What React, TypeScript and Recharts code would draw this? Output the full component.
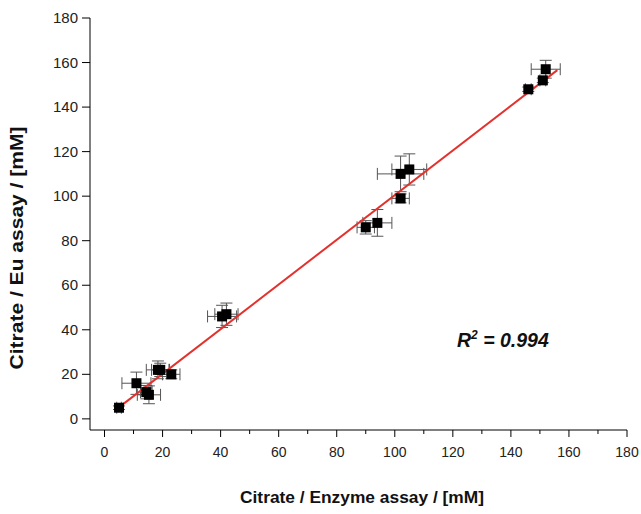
import React from 'react';
import { ScatterChart, Scatter, XAxis, YAxis, ErrorBar, Label } from 'recharts';

// enzyme assay (x) vs Eu assay (y), with error on both
const xVals = [5, 11, 14.4, 15.3, 18.4, 19.2, 23, 40.5, 42, 90, 94, 102, 102, 105, 146, 151, 152];
const yVals = [5, 16, 12, 10.8, 22, 22, 20, 46, 47, 86, 88, 99, 110, 112, 148, 152, 157];
const xErr = [0.8, 5, 2, 4, 4, 3, 3, 5, 4, 3, 5, 3, 8, 6, 1, 1, 5];
const yErr = [0.8, 5, 3, 4, 4, 3, 2, 5, 5, 3, 6, 2, 8, 7, 1, 1, 4];

// linear fit ends
const fitX = [3.5, 156];
const fitY = [3.7, 156.6];

const xTicks = [0, 10, 20, 30, 40, 50, 60, 70, 80, 90, 100, 110, 120, 130, 140, 150, 160, 170, 180];
const yTicks = [0, 10, 20, 30, 40, 50, 60, 70, 80, 90, 100, 110, 120, 130, 140, 150, 160, 170, 180];

const points = xVals.map((x, i) => ({ x, y: yVals[i], ex: xErr[i], ey: yErr[i] }));
const fit = fitX.map((x, i) => ({ x, y: fitY[i] }));

const font = '"Liberation Sans", Arial, sans-serif';

const Square = (props: any) => {
  const { cx, cy } = props;
  return <rect x={cx - 5} y={cy - 5} width={10} height={10} fill="#000" />;
};

const XTick = (props: any) => {
  const { x, y, payload } = props;
  const major = payload.value % 20 === 0;
  return (
    <g>
      <line x1={x} x2={x} y1={y} y2={y + (major ? 7 : 4)} stroke="#000" strokeWidth={1} />
      {major && (
        <text x={x} y={y + 27} textAnchor="middle" fontSize={14} fontFamily={font} fill="#222">
          {payload.value}
        </text>
      )}
    </g>
  );
};

const YTick = (props: any) => {
  const { x, y, payload } = props;
  const major = payload.value % 20 === 0;
  return (
    <g>
      <line x1={x - (major ? 8 : 4)} x2={x} y1={y} y2={y} stroke="#000" strokeWidth={1} />
      {major && (
        <text x={x - 12} y={y + 5} textAnchor="end" fontSize={15} fontFamily={font} fill="#222">
          {payload.value}
        </text>
      )}
    </g>
  );
};

export default function App() {
  return (
    <div style={{ position: 'absolute', left: 0, top: 0, background: '#fff' }}>
      <ScatterChart width={641} height={514} margin={{ top: 18, right: 14, left: 0, bottom: 0 }}>
        <XAxis
          type="number"
          dataKey="x"
          domain={[-5, 180]}
          ticks={xTicks}
          tick={<XTick />}
          tickLine={false}
          tickSize={0}
          tickMargin={0}
          height={84}
          stroke="#000"
          allowDataOverflow
        >
          <Label
            content={() => (
              <g fontFamily={font}>
                <text
                  x={362}
                  y={503}
                  textAnchor="middle"
                  fontSize={17}
                  fontWeight="bold"
                  fill="#111"
                  textLength={244}
                  lengthAdjust="spacingAndGlyphs"
                >
                  Citrate / Enzyme assay / [mM]
                </text>
                <text x={457} y={347} fontSize={19.5} fontWeight="bold" fontStyle="italic" fill="#111">
                  R<tspan fontSize={12} dy={-8}>2</tspan>
                  <tspan dy={8}> = 0.994</tspan>
                </text>
              </g>
            )}
          />
        </XAxis>
        <YAxis
          type="number"
          dataKey="y"
          domain={[-5, 180]}
          ticks={yTicks}
          tick={<YTick />}
          tickLine={false}
          tickSize={0}
          tickMargin={0}
          width={90}
          stroke="#000"
          allowDataOverflow
        >
          <Label
            content={() => (
              <text
                x={23}
                y={248}
                transform="rotate(-90 23 248)"
                textAnchor="middle"
                fontSize={18}
                fontWeight="bold"
                fontFamily={font}
                fill="#111"
                textLength={243}
                lengthAdjust="spacingAndGlyphs"
              >
                Citrate / Eu assay / [mM]
              </text>
            )}
          />
        </YAxis>
        <Scatter
          data={fit}
          line={{ stroke: '#e3312d', strokeWidth: 2 }}
          shape={() => <g />}
          isAnimationActive={false}
        />
        <Scatter data={points} shape={<Square />} isAnimationActive={false}>
          <ErrorBar dataKey="ex" direction="x" width={6} stroke="#555" strokeWidth={1} isAnimationActive={false} />
          <ErrorBar dataKey="ey" direction="y" width={6} stroke="#555" strokeWidth={1} isAnimationActive={false} />
        </Scatter>
      </ScatterChart>
    </div>
  );
}
